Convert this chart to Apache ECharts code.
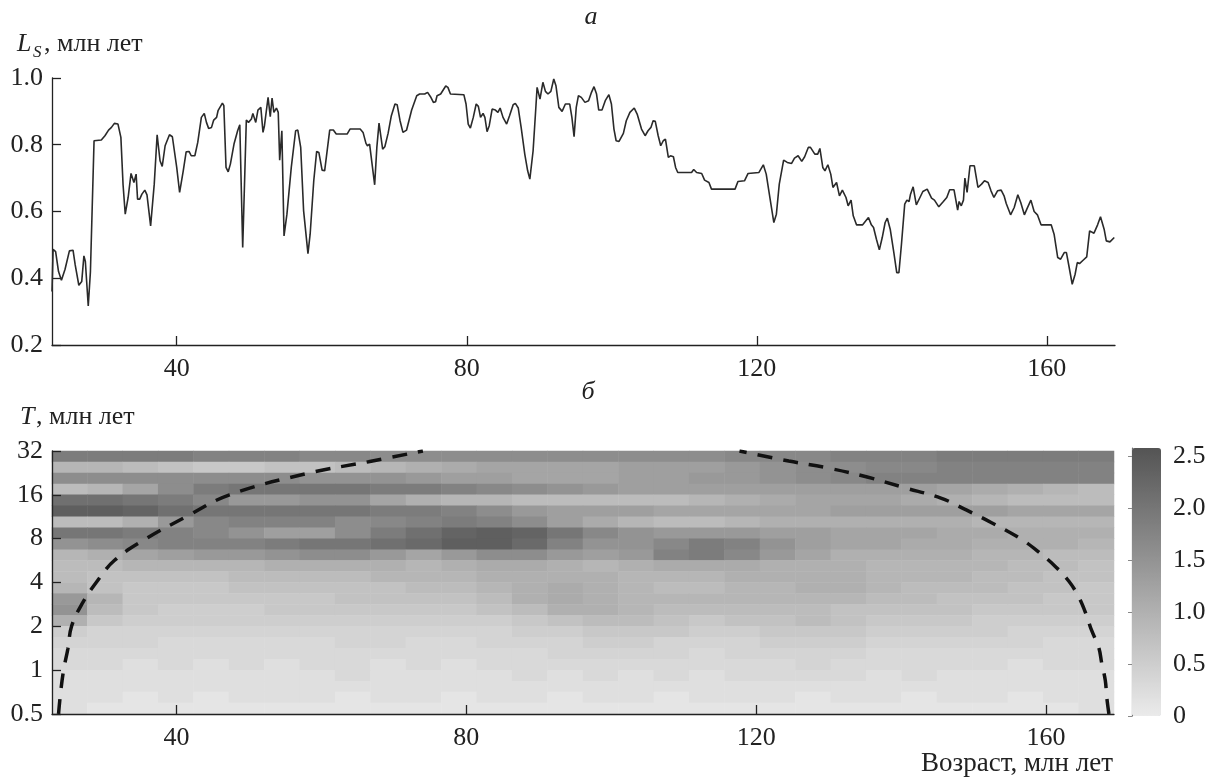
<!DOCTYPE html>
<html><head><meta charset="utf-8">
<script src="https://cdn.jsdelivr.net/npm/echarts@6/dist/echarts.min.js"></script>
<style>html,body{margin:0;padding:0;background:#fff}#c{width:1217px;height:780px}</style>
</head><body><div id="c"></div>
<script>
// ---- panel (a): L_S vs age ----
const ageLs = [22.8,22.85,22.95,23.3,23.7,24.1,24.6,25.2,25.7,26.0,26.5,26.9,27.2,27.4,27.8,28.1,28.6,29.6,30.1,30.6,31.0,31.4,31.9,32.3,32.6,32.9,33.3,33.7,33.9,34.1,34.4,34.6,34.9,35.2,35.6,35.9,36.4,36.9,37.3,37.7,38.0,38.4,39.0,39.4,40.0,40.4,40.9,41.3,41.7,42.0,42.5,42.9,43.4,43.8,44.1,44.4,44.8,45.1,45.5,45.7,46.3,46.5,46.8,47.1,47.4,47.9,48.4,48.7,49.1,49.6,49.9,50.3,50.5,50.9,51.2,51.6,51.9,
52.1,52.6,52.9,53.15,53.4,53.75,54.0,54.2,54.5,54.8,55.2,55.8,56.4,56.7,57.1,57.5,58.1,58.4,58.9,59.3,59.6,60.05,60.4,61.1,61.6,62.0,63.5,63.9,65.3,65.7,66.1,66.3,66.6,67.3,67.6,67.9,68.4,68.7,69.15,69.6,70.1,70.4,70.8,71.2,71.7,72.4,73.1,73.5,74.2,74.6,75.0,75.4,75.7,75.9,76.4,77.1,77.4,77.75,79.6,79.9,80.2,80.5,80.9,81.3,81.6,81.9,
82.25,82.5,82.8,83.1,83.5,83.95,84.3,84.6,85.0,85.5,85.9,86.4,86.7,87.1,87.5,88.0,88.4,88.7,89.15,89.5,89.7,90.1,90.2,90.5,90.85,91.2,91.6,92.0,92.3,92.7,93.15,93.6,94.2,94.5,94.8,95.1,95.4,95.8,96.3,96.8,97.2,97.55,97.9,98.2,98.65,99.1,99.6,99.95,100.3,100.6,101.0,101.6,102.0,102.5,103.1,103.5,104.1,104.6,105.0,105.4,105.7,106.0,106.4,106.75,107.1,107.4,107.8,108.1,108.5,108.8,109.1,111.0,
111.3,111.7,112.4,112.8,113.4,113.75,117.0,117.4,118.3,118.8,120.3,120.9,121.3,121.8,122.35,122.7,123.1,123.7,124.2,124.8,125.2,125.7,126.2,126.6,127.1,127.4,128.0,128.4,128.7,129.1,129.4,129.8,130.2,130.5,131.0,131.4,131.8,132.3,132.6,133.0,133.3,133.75,134.6,135.4,135.8,136.1,136.5,136.9,137.3,137.7,138.0,138.4,138.9,139.3,139.6,139.95,140.4,140.7,141.0,
141.2,141.56,142.0,142.5,142.9,143.5,144.1,144.5,145.1,145.7,146.2,146.6,147.2,147.4,147.7,147.9,148.2,148.5,148.7,149.0,149.4,150.0,150.5,151.0,151.4,151.9,152.3,152.7,153.2,153.7,154.1,154.4,155.0,155.5,156.0,156.4,156.9,157.3,157.8,158.25,158.7,159.2,160.6,161.0,161.5,161.9,162.4,162.7,163.0,163.5,163.9,164.2,164.5,165.0,165.5,165.9,166.5,167.0,167.4,167.9,168.2,168.7,169.3];
const valueLs = [0.36,0.40,0.487,0.48,0.42,0.394,0.427,0.482,0.484,0.44,0.379,0.39,0.467,0.45,0.317,0.42,0.812,0.814,0.827,0.844,0.852,0.864,0.862,0.822,0.68,0.592,0.642,0.714,0.71,0.687,0.712,0.637,0.637,0.652,0.664,0.65,0.557,0.682,0.83,0.752,0.735,0.797,0.83,0.824,0.732,0.657,0.722,0.779,0.78,0.767,0.767,0.807,0.882,0.894,0.867,0.849,0.852,0.874,0.882,0.902,0.925,0.917,0.732,0.719,0.742,0.802,0.842,0.86,0.492,0.874,0.867,0.877,0.894,0.867,0.904,0.912,0.837,
0.857,0.942,0.884,0.94,0.897,0.91,0.897,0.754,0.842,0.527,0.592,0.732,0.842,0.844,0.792,0.602,0.474,0.532,0.692,0.78,0.777,0.724,0.722,0.844,0.844,0.832,0.832,0.847,0.847,0.837,0.804,0.797,0.802,0.68,0.792,0.865,0.787,0.794,0.834,0.887,0.922,0.92,0.872,0.837,0.844,0.904,0.947,0.952,0.952,0.957,0.944,0.927,0.929,0.947,0.952,0.976,0.972,0.952,0.95,0.922,0.862,0.85,0.882,0.922,0.915,0.882,
0.894,0.882,0.839,0.857,0.907,0.904,0.897,0.91,0.882,0.862,0.887,0.92,0.924,0.91,0.852,0.772,0.722,0.697,0.782,0.902,0.972,0.937,0.932,0.987,0.96,0.952,0.96,0.997,0.977,0.912,0.9,0.922,0.922,0.882,0.824,0.912,0.947,0.942,0.927,0.932,0.957,0.974,0.952,0.904,0.904,0.932,0.95,0.922,0.847,0.812,0.81,0.834,0.872,0.897,0.91,0.892,0.847,0.827,0.842,0.852,0.872,0.87,0.827,0.797,0.812,0.817,0.762,0.767,0.764,0.732,0.717,0.717,
0.726,0.717,0.714,0.694,0.687,0.667,0.667,0.69,0.692,0.714,0.717,0.74,0.712,0.642,0.567,0.592,0.682,0.754,0.747,0.744,0.76,0.767,0.75,0.764,0.792,0.792,0.772,0.772,0.789,0.732,0.722,0.74,0.712,0.672,0.687,0.647,0.664,0.642,0.617,0.634,0.587,0.56,0.56,0.582,0.56,0.552,0.517,0.485,0.522,0.567,0.58,0.547,0.477,0.417,0.417,0.502,0.622,0.634,0.63,
0.652,0.674,0.62,0.642,0.66,0.667,0.64,0.634,0.614,0.629,0.642,0.665,0.665,0.66,0.604,0.63,0.617,0.634,0.7,0.657,0.737,0.737,0.672,0.682,0.692,0.687,0.662,0.642,0.662,0.664,0.647,0.624,0.59,0.612,0.65,0.627,0.59,0.61,0.634,0.6,0.59,0.56,0.56,0.532,0.462,0.457,0.477,0.477,0.442,0.382,0.412,0.447,0.444,0.454,0.464,0.542,0.535,0.56,0.584,0.547,0.512,0.509,0.522];
const ageTicks = [40, 80, 120, 160];
const colorTicks = [0, 0.5, 1, 1.5, 2, 2.5];

// ---- panel (б): wavelet power ----
const heatAges = ['25','30','35','40','45','50','55','59','64','69','74','79','84','89','94','99','104','108','113','118','123','128','133','138','143','148','153','157','162','167'];
const heatPeriods = ['0.55','0.65','0.77','0.92','1.09','1.30','1.54','1.83','2.18','2.59','3.08','3.67','4.36','5.19','6.17','7.34','8.72','10.4','12.3','14.7','17.4','20.7','24.7','29.3'];
// rows listed from the longest period (top) down to the shortest (bottom)
const powerRows = [
[1.9,1.9,1.9,1.9,1.8,1.8,1.8,1.7,1.7,1.6,1.6,1.6,1.6,1.6,1.6,1.6,1.6,1.6,1.6,1.7,1.7,1.7,1.8,1.8,1.8,1.9,1.9,1.9,1.9,1.9],
[0.9,0.9,0.8,0.7,0.6,0.6,0.7,0.7,0.8,0.9,1.0,1.1,1.2,1.2,1.2,1.2,1.3,1.3,1.3,1.4,1.5,1.6,1.6,1.7,1.7,1.8,1.8,1.8,1.8,1.8],
[1.6,1.6,1.6,1.6,1.6,1.6,1.6,1.5,1.5,1.5,1.4,1.3,1.3,1.2,1.2,1.2,1.3,1.3,1.4,1.4,1.5,1.6,1.7,1.8,1.8,1.8,1.8,1.8,1.8,1.8],
[0.8,0.9,1.2,1.6,1.9,2.0,2.0,2.0,2.0,1.9,1.9,1.8,1.7,1.6,1.5,1.4,1.3,1.3,1.3,1.3,1.3,1.3,1.3,1.3,1.3,1.2,1.1,1.0,0.9,0.8],
[2.1,2.1,2.0,1.9,1.7,1.4,1.4,1.5,1.5,1.2,1.0,0.9,0.9,0.8,0.8,0.8,0.8,0.8,0.9,1.0,1.1,1.2,1.2,1.2,1.1,1.0,0.9,0.8,0.8,0.8],
[2.4,2.4,2.3,2.1,2.0,2.0,2.0,2.0,2.0,1.9,1.9,1.8,1.6,1.4,1.3,1.3,1.3,1.2,1.2,1.2,1.2,1.2,1.3,1.3,1.3,1.3,1.3,1.2,1.2,1.2],
[0.8,0.8,1.0,1.4,1.7,1.8,1.8,1.8,1.6,1.7,1.8,1.9,1.8,1.6,1.3,1.1,0.9,0.8,0.8,0.9,1.0,1.0,1.0,1.0,1.0,1.0,0.9,0.9,0.9,0.9],
[2.0,2.0,1.9,1.8,1.7,1.5,1.3,1.3,1.6,1.9,2.1,2.3,2.4,2.3,2.0,1.7,1.5,1.4,1.4,1.4,1.3,1.3,1.2,1.2,1.2,1.1,1.1,1.0,1.0,1.0],
[1.5,1.6,1.7,1.8,1.8,1.8,1.9,2.0,2.0,2.1,2.2,2.4,2.4,2.2,1.8,1.5,1.5,1.7,1.9,1.8,1.5,1.3,1.2,1.2,1.1,1.1,1.0,1.0,1.0,0.9],
[0.9,1.0,1.2,1.3,1.4,1.4,1.5,1.6,1.6,1.4,1.2,1.4,1.6,1.6,1.4,1.3,1.4,1.8,1.9,1.7,1.4,1.2,1.0,1.0,1.0,1.0,0.9,0.9,0.8,0.8],
[0.8,0.8,0.9,0.9,0.9,0.9,1.0,1.0,1.0,1.0,0.9,1.0,1.1,1.1,1.0,0.9,1.0,1.1,1.1,1.1,1.0,1.0,1.0,0.9,0.9,0.9,0.9,0.8,0.8,0.7],
[0.8,0.7,0.7,0.7,0.7,0.8,0.8,0.8,0.8,0.9,0.9,0.9,1.0,1.0,1.0,1.0,0.9,0.9,0.9,1.0,1.0,1.0,1.0,0.9,0.9,0.9,0.8,0.8,0.7,0.7],
[0.9,0.7,0.6,0.6,0.6,0.7,0.7,0.7,0.7,0.7,0.8,0.8,0.9,1.0,1.1,1.0,0.9,0.8,0.8,0.9,0.9,1.0,1.0,0.9,0.8,0.8,0.8,0.7,0.7,0.6],
[1.4,0.9,0.6,0.6,0.6,0.6,0.6,0.6,0.7,0.7,0.7,0.7,0.8,1.0,1.1,1.0,0.9,0.9,0.9,0.9,0.9,0.9,0.9,0.8,0.8,0.7,0.7,0.7,0.6,0.6],
[1.5,0.8,0.6,0.5,0.5,0.5,0.6,0.6,0.6,0.6,0.6,0.6,0.7,0.8,1.0,1.0,0.9,0.8,0.8,0.8,0.8,0.8,0.7,0.7,0.7,0.7,0.6,0.6,0.6,0.6],
[1.0,0.6,0.5,0.5,0.5,0.5,0.5,0.5,0.5,0.5,0.5,0.5,0.5,0.6,0.7,0.8,0.8,0.7,0.6,0.7,0.7,0.8,0.7,0.6,0.6,0.6,0.5,0.5,0.5,0.5],
[0.5,0.4,0.4,0.4,0.4,0.4,0.4,0.4,0.4,0.4,0.4,0.4,0.4,0.5,0.5,0.6,0.6,0.6,0.5,0.5,0.6,0.6,0.6,0.5,0.5,0.5,0.5,0.4,0.4,0.4],
[0.4,0.4,0.4,0.3,0.3,0.3,0.3,0.3,0.4,0.4,0.3,0.3,0.4,0.4,0.4,0.5,0.5,0.4,0.4,0.4,0.5,0.5,0.5,0.4,0.4,0.4,0.4,0.4,0.3,0.3],
[0.3,0.3,0.3,0.3,0.3,0.3,0.3,0.3,0.3,0.3,0.3,0.3,0.3,0.3,0.4,0.4,0.4,0.4,0.3,0.4,0.4,0.4,0.4,0.3,0.3,0.3,0.3,0.3,0.3,0.3],
[0.3,0.3,0.2,0.3,0.2,0.3,0.2,0.3,0.3,0.2,0.3,0.2,0.3,0.3,0.3,0.3,0.3,0.3,0.3,0.3,0.3,0.4,0.3,0.3,0.3,0.3,0.3,0.2,0.3,0.3],
[0.2,0.2,0.2,0.2,0.2,0.2,0.2,0.2,0.3,0.2,0.2,0.2,0.2,0.3,0.2,0.3,0.2,0.3,0.2,0.3,0.3,0.3,0.3,0.2,0.3,0.2,0.2,0.2,0.2,0.2],
[0.2,0.2,0.2,0.2,0.2,0.2,0.2,0.2,0.2,0.2,0.2,0.2,0.2,0.2,0.2,0.2,0.2,0.2,0.2,0.2,0.2,0.2,0.2,0.2,0.2,0.2,0.2,0.2,0.2,0.2],
[0.2,0.2,0.1,0.2,0.1,0.2,0.2,0.2,0.1,0.2,0.2,0.1,0.2,0.2,0.1,0.2,0.2,0.1,0.2,0.2,0.2,0.1,0.2,0.2,0.1,0.2,0.2,0.1,0.2,0.2],
[0.2,0.1,0.1,0.1,0.1,0.1,0.1,0.1,0.1,0.1,0.1,0.1,0.1,0.1,0.1,0.1,0.1,0.1,0.1,0.1,0.1,0.1,0.1,0.1,0.1,0.1,0.1,0.1,0.1,0.2]
];
// cone of influence
const coiLeftAge = [23.7,24.0,24.4,25.0,25.5,26.9,28.9,31.4,35.8,41.3,47.3,58.3,66.5,74.0];
const coiLeftT   = [0.5,0.71,1,1.41,2,2.83,4,5.66,8,11.3,16,22.6,27,32];
const coiRightAge = [168.7,168.4,168.2,167.7,167.3,166.3,165.5,164.5,163.2,161.4,158.8,156.3,152.5,149.0,145.5,140.5,135.2,130.0,124.5,117.7];
const coiRightT   = [0.5,0.65,0.85,1.12,1.43,1.88,2.46,3.2,4.06,5.1,6.6,8.1,10.3,12.6,15.2,17.9,21.3,24.4,27.3,32];

// ---- build ----
const SERIF = '"Liberation Serif","Times New Roman",serif';
const INK = '#222';
const lineData = ageLs.map((a, i) => [a, valueLs[i]]);
const heatData = [];
powerRows.forEach((row, k) => {
  const r = powerRows.length - 1 - k;
  row.forEach((v, c) => heatData.push([c, r, v]));
});
const coiLeft = coiLeftAge.map((a, i) => [a, coiLeftT[i]]);
const coiRight = coiRightAge.map((a, i) => [a, coiRightT[i]]);

const axLine = {show: true, lineStyle: {color: INK, width: 1.3}};
const tickIn = {show: true, inside: true, length: 9, lineStyle: {color: INK, width: 1.3}};
const lab = {fontSize: 26, fontFamily: SERIF, color: INK};

const chart = echarts.init(document.getElementById('c'));
chart.setOption({
  animation: false,
  backgroundColor: '#fff',
  grid: [
    {left: 52, top: 78, width: 1063, height: 267},
    {left: 52, top: 451, width: 1062, height: 263},
    {left: 52, top: 451, width: 1062, height: 263},
    {left: 1132, top: 448, width: 33, height: 268}
  ],
  xAxis: [
    {gridIndex: 0, type: 'value', min: 22.8, max: 169.4, axisLine: axLine,
     axisTick: Object.assign({customValues: ageTicks}, tickIn),
     axisLabel: Object.assign({customValues: ageTicks, margin: 11}, lab), splitLine: {show: false}},
    {gridIndex: 1, type: 'category', data: heatAges, show: false},
    {gridIndex: 2, type: 'value', min: 22.8, max: 169.4, z: 10, axisLine: axLine,
     axisTick: Object.assign({customValues: ageTicks}, tickIn),
     axisLabel: Object.assign({customValues: ageTicks, margin: 11}, lab), splitLine: {show: false}},
    {gridIndex: 3, type: 'value', min: 0, max: 1, show: false}
  ],
  yAxis: [
    {gridIndex: 0, type: 'value', min: 0.2, max: 1.0, interval: 0.2, axisLine: axLine, axisTick: tickIn,
     axisLabel: Object.assign({margin: 9, formatter: v => v.toFixed(1)}, lab), splitLine: {show: false}},
    {gridIndex: 1, type: 'category', data: heatPeriods, show: false},
    {gridIndex: 2, type: 'log', logBase: 2, min: 0.5, max: 32, z: 10, axisLine: axLine, axisTick: tickIn,
     axisLabel: Object.assign({margin: 9, formatter: v => String(Math.round(v * 100) / 100)}, lab), splitLine: {show: false}},
    {gridIndex: 3, type: 'value', position: 'right', min: 0, max: 2.58,
     axisLine: {show: true, lineStyle: {color: '#666', width: 1.2}},
     axisTick: {show: true, inside: true, length: 4, customValues: colorTicks, lineStyle: {color: '#888'}},
     axisLabel: Object.assign({customValues: colorTicks, margin: 8, formatter: v => v === 0 ? '0' : v.toFixed(1)}, lab),
     splitLine: {show: false}}
  ],
  visualMap: {
    type: 'continuous', seriesIndex: 1, min: 0, max: 2.58, calculable: false, orient: 'vertical',
    left: 1132, top: 448, itemWidth: 29, itemHeight: 268, padding: 0, hoverLink: false,
    inRange: {color: ['#ebebeb', '#545454']}
  },
  series: [
    {type: 'line', xAxisIndex: 0, yAxisIndex: 0, data: lineData, showSymbol: false, silent: true,
     lineStyle: {color: '#2a2a2a', width: 1.6}},
    {type: 'heatmap', xAxisIndex: 1, yAxisIndex: 1, data: heatData, z: 1, silent: true,
     itemStyle: {borderWidth: 0}},
    {type: 'line', xAxisIndex: 2, yAxisIndex: 2, data: coiLeft, showSymbol: false, silent: true, z: 5, smooth: 0.4,
     lineStyle: {color: '#111', width: 3.5, type: [15, 11]}},
    {type: 'line', xAxisIndex: 2, yAxisIndex: 2, data: coiRight, showSymbol: false, silent: true, z: 5, smooth: 0.4,
     lineStyle: {color: '#111', width: 3.5, type: [15, 11]}}
  ],
  graphic: [
    {type: 'text', x: 591, y: 17, style: {text: 'а', font: 'italic 26px ' + SERIF, fill: INK, align: 'center', verticalAlign: 'middle'}},
    {type: 'text', x: 588, y: 392, style: {text: 'б', font: 'italic 26px ' + SERIF, fill: INK, align: 'center', verticalAlign: 'middle'}},
    {type: 'text', x: 17, y: 44, style: {text: 'L', font: 'italic 26px ' + SERIF, fill: INK, align: 'left', verticalAlign: 'middle'}},
    {type: 'text', x: 33, y: 53, style: {text: 'S', font: 'italic 17px ' + SERIF, fill: INK, align: 'left', verticalAlign: 'middle'}},
    {type: 'text', x: 44, y: 44, style: {text: ', млн лет', font: '26px ' + SERIF, fill: INK, align: 'left', verticalAlign: 'middle'}},
    {type: 'text', x: 20, y: 417, style: {text: 'T', font: 'italic 26px ' + SERIF, fill: INK, align: 'left', verticalAlign: 'middle'}},
    {type: 'text', x: 36, y: 417, style: {text: ', млн лет', font: '26px ' + SERIF, fill: INK, align: 'left', verticalAlign: 'middle'}},
    {type: 'text', x: 1113, y: 764, style: {text: 'Возраст, млн лет', font: '27px ' + SERIF, fill: INK, align: 'right', verticalAlign: 'middle'}}
  ]
});
</script></body></html>
